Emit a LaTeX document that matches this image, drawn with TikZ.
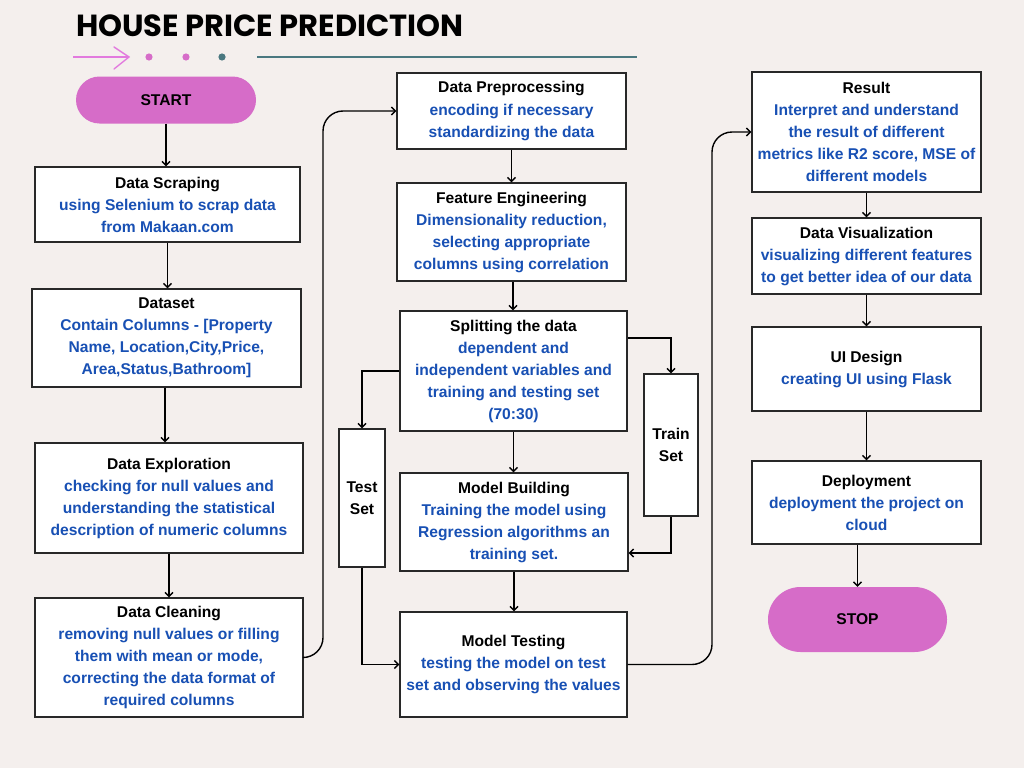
\documentclass[tikz,border=0pt]{standalone}
\usepackage{fontspec}
\setmainfont{Liberation Sans}
\newfontfamily\titlefont{Poppins}
\usetikzlibrary{arrows.meta,calc}
\definecolor{bgc}{RGB}{244,239,237}
\definecolor{txtblue}{RGB}{24,80,180}
\definecolor{pill}{RGB}{214,108,200}
\definecolor{pinkline}{RGB}{226,122,222}
\definecolor{teal}{RGB}{74,120,128}
\definecolor{boxline}{RGB}{40,40,40}
\newcommand{\bl}[1]{\textcolor{txtblue}{#1}}
\tikzset{
  box/.style={draw=boxline, line width=1.1pt, fill=white, align=center, inner sep=2pt,
    font=\fontsize{15.6}{22}\selectfont\bfseries},
  pillbox/.style={rectangle, fill=pill, draw=none, font=\fontsize{15.6}{22}\selectfont\bfseries},
  arr/.style={draw=black, line width=1.4pt, -{Straight Barb[length=4pt,width=8pt,line width=1.4pt]}},
}
\begin{document}
\begin{tikzpicture}[x=1pt,y=-1pt]
\useasboundingbox (0,0) rectangle (1024,768);
\fill[bgc] (0,0) rectangle (1024,768);

% header
\node[anchor=base west, inner sep=0pt, font=\titlefont\bfseries\fontsize{30.5}{33}\selectfont] (title) at (76,37) {HOUSE PRICE PREDICTION};
\draw[pinkline, line width=1.4pt] (73,57) -- (129,57);
\draw[pinkline, line width=1.4pt, line cap=round, line join=miter] (114,47) -- (129,57) -- (114,69);
\fill[pill] (149,57) circle (3.6);
\fill[pill] (186,57) circle (3.6);
\fill[teal] (222,57) circle (3.6);
\draw[teal, line width=1.8pt] (257,57) -- (637,57);

% left column
\node[pillbox, rounded corners=23.5pt, minimum width=180pt, minimum height=47pt] (start) at (166,100) {START};
\node[box, minimum width=265pt, minimum height=75pt] (scrap) at (167.5,204.5)
  {Data Scraping\\\bl{using Selenium to scrap data}\\\bl{from Makaan.com}};
\node[box, minimum width=269pt, minimum height=98pt] (dataset) at (166.5,338)
  {Dataset\\\bl{Contain Columns - [Property}\\\bl{Name, Location,City,Price,}\\\bl{Area,Status,Bathroom]}};
\node[box, minimum width=268pt, minimum height=110pt] (explore) at (169,498)
  {Data Exploration\\\bl{checking for null values and}\\\bl{understanding the statistical}\\\bl{description of numeric columns}};
\node[box, minimum width=268pt, minimum height=119pt] (clean) at (169,657.5)
  {Data Cleaning\\\bl{removing null values or filling}\\\bl{them with mean or mode,}\\\bl{correcting the data format of}\\\bl{required columns}};

% middle column
\node[box, minimum width=229pt, minimum height=76pt] (prep) at (511.5,111)
  {Data Preprocessing\\\bl{encoding if necessary}\\\bl{standardizing the data}};
\node[box, minimum width=229pt, minimum height=98pt] (feat) at (511.5,232)
  {Feature Engineering\\\bl{Dimensionality reduction,}\\\bl{selecting appropriate}\\\bl{columns using correlation}};
\node[box, minimum width=227pt, minimum height=120pt] (split) at (513.5,371)
  {Splitting the data\\\bl{dependent and}\\\bl{independent variables and}\\\bl{training and testing set}\\\bl{(70:30)}};
\node[box, minimum width=46pt, minimum height=138pt] (test) at (362,498)
  {Test\\Set};
\node[box, minimum width=54pt, minimum height=142pt] (train) at (671,445)
  {Train\\Set};
\node[box, minimum width=228pt, minimum height=98pt] (build) at (514,522)
  {Model Building\\\bl{Training the model using}\\\bl{Regression algorithms an}\\\bl{training set.}};
\node[box, minimum width=227pt, minimum height=105pt] (mtest) at (513.5,664.5)
  {Model Testing\\\bl{testing the model on test}\\\bl{set and observing the values}};

% right column
\node[box, minimum width=229pt, minimum height=120pt] (result) at (866.5,132)
  {Result\\\bl{Interpret and understand}\\\bl{the result of different}\\\bl{metrics like R2 score, MSE of}\\\bl{different models}};
\node[box, minimum width=229pt, minimum height=76pt] (vis) at (866.5,256)
  {Data Visualization\\\bl{visualizing different features}\\\bl{to get better idea of our data}};
\node[box, minimum width=229pt, minimum height=84pt] (ui) at (866.5,369)
  {UI Design\\\bl{creating UI using Flask}};
\node[box, minimum width=229pt, minimum height=83pt] (deploy) at (866.5,502.5)
  {Deployment\\\bl{deployment the project on}\\\bl{cloud}};
\node[pillbox, rounded corners=32.5pt, minimum width=179pt, minimum height=65pt] (stop) at (857.5,619.5) {STOP};

% connectors left
\draw[arr] (start.south) -- (start.south |- scrap.north);
\draw[arr] (scrap.south) -- (scrap.south |- dataset.north);
\draw[arr] ([xshift=-1.5pt]dataset.south) -- ([xshift=-1.5pt]dataset.south |- explore.north);
\draw[arr] (explore.south) -- (explore.south |- clean.north);
\draw[arr, rounded corners=20pt] (clean.east) -- (323,657.5) -- (323,111) -- (prep.west);

% connectors middle
\draw[arr] (prep.south) -- (prep.south |- feat.north);
\draw[arr] ([xshift=1.5pt]feat.south) -- ([xshift=1.5pt]feat.south |- split.north);
\draw[arr] (split.south) -- (split.south |- build.north);
\draw[arr] (build.south) -- (build.south |- mtest.north);
\draw[arr] (split.west) -| (test.north);
\draw[arr] ([yshift=33pt]split.east) -| (train.north);
\draw[arr] (train.south) |- ([yshift=-31pt]build.east);
\draw[arr] (test.south) |- (mtest.west);
\draw[arr, rounded corners=20pt] (mtest.east) -- (712,664.5) -- (712,132) -- (result.west);

% connectors right
\draw[arr] (result.south) -- (result.south |- vis.north);
\draw[arr] (vis.south) -- (vis.south |- ui.north);
\draw[arr] (ui.south) -- (ui.south |- deploy.north);
\draw[arr] (stop.north |- deploy.south) -- (stop.north);
\end{tikzpicture}
\end{document}
